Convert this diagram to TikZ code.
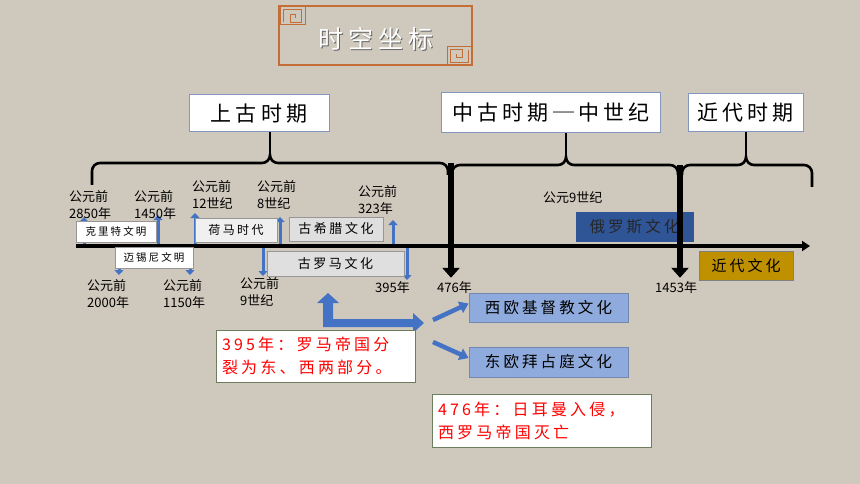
\documentclass[tikz,border=0pt]{standalone}
\usepackage{fontspec}
\newfontfamily\cjk{Noto Sans CJK SC}
\newfontfamily\cjkwide[LetterSpace=20]{Noto Sans CJK SC}
\usetikzlibrary{arrows.meta,positioning}
\definecolor{paper}{RGB}{207,200,188}
\definecolor{markblue}{RGB}{68,114,196}
\definecolor{keyorange}{RGB}{196,110,55}
\definecolor{periodedge}{RGB}{130,150,190}
\definecolor{greyedge}{RGB}{150,150,150}
\definecolor{westblue}{RGB}{143,170,220}
\definecolor{rusblue}{RGB}{47,85,151}
\definecolor{modgold}{RGB}{191,144,0}
\definecolor{noteedge}{RGB}{110,125,95}
\begin{document}
\begin{tikzpicture}[x=1pt, y=-1pt,
  period/.style = {draw=periodedge, fill=white, line width=1pt, inner sep=0pt, font=\cjkwide\fontsize{21}{21}\selectfont},
  date/.style = {anchor=west, align=left, inner sep=0pt, font=\cjk\fontsize{13}{17}\selectfont},
  culture/.style = {draw=greyedge, line width=0.8pt, inner sep=0pt, font=\cjkwide\fontsize{#1}{#1}\selectfont},
  split/.style = {draw=westblue!80!black, fill=westblue, line width=0.8pt, inner sep=0pt, font=\cjkwide\fontsize{15.5}{15.5}\selectfont},
  note/.style = {draw=noteedge, fill=white, line width=1pt, inner sep=0pt, inner xsep=6pt, align=left, text=red, font=\cjkwide\fontsize{16}{23}\selectfont},
  brace/.style = {line width=2.6pt},
  era/.style = {line width=6pt, -{Triangle[width=17pt,length=10pt]}, shorten >=4pt},
  datearrow/.style = {draw=markblue, line width=3pt, -{Triangle[width=9pt,length=5pt]}},
  forkarrow/.style = {draw=markblue, line width=4.5pt, -{Triangle[width=12pt,length=9pt]}},
  keyline/.style = {draw=keyorange, line width=1pt}
]
\fill[paper] (0,0) rectangle (860,484);
\useasboundingbox (0,0) rectangle (860,484);

% title
\draw[keyline, line width=1.2pt] (279,6) rectangle (472,65);
\foreach \kx/\ky/\kr in {280/7/0, 472/65/180}
  \draw[keyline, shift={(\kx,\ky)}, rotate=\kr, x=25pt, y=-18pt]
    (0,0) rectangle (1,1)
    (0.15,0.85) -- (0.15,0.15) -- (0.85,0.15) -- (0.85,0.85) -- (0.4,0.85) -- (0.4,0.4) -- (0.62,0.4) -- (0.62,0.62);
\node[font=\cjkwide\fontsize{25}{25}\selectfont, text=black!60] (titleshade) at (377,40) {时空坐标};
\node[font=\cjkwide\fontsize{25}{25}\selectfont, text=white] (title) at (375.5,38.5) {时空坐标};

% periods
\node[period, minimum width=140pt, minimum height=37pt] (pA) at (259,113.5) {上古时期};
\node[period, minimum width=219pt, minimum height=40pt] (pB) at (551,113) {中古时期─中世纪};
\node[period, minimum width=115pt, minimum height=38pt] (pC) at (745.5,113) {近代时期};

\foreach \xl/\xm/\xr/\yb/\yl/\yr/\pname in {92/270/448/163/185/175/pA, 452/566/678/165/175/175/pB, 682/746/812/165/175/187/pC} {
  \draw[brace] (\xl,\yl) -- (\xl,\yb+8) to[out=90,in=180] (\xl+8,\yb) -- (\xm-8,\yb) to[out=0,in=-90] (\xm,\yb-8)
    to[out=-90,in=180] (\xm+8,\yb) -- (\xr-8,\yb) to[out=0,in=90] (\xr,\yb+8) -- (\xr,\yr);
  \draw[brace] (\xm,\yb-8) -- (\xm,0 |- \pname.south);
}

% timeline
\coordinate (tl0) at (76,246);
\coordinate (tl1) at (810,246);
\foreach \n/\x/\y in {a/84/217, b/158/215, c/195/213, d/280/217, e/393/220, f/119/275, g/190/275, h/263/276, i/407/280} {
  \coordinate (tip\n) at (\x,\y);
  \draw[datearrow] (tip\n |- tl0) -- (tip\n);
}
\draw[line width=4pt, -{Triangle[width=10pt,length=8pt]}] (tl0) -- (tl1);

% cultures
\node[culture=10.5, fill=white, minimum width=80pt, minimum height=21pt] (crete) at (116,231.5) {克里特文明};
\node[culture=10.5, fill=white, minimum width=78pt, minimum height=21pt] (mycenae) at (154,257.5) {迈锡尼文明};
\node[culture=12, fill=gray!12, minimum width=82pt, minimum height=24pt] (homer) at (236,230) {荷马时代};
\node[culture=13, fill=gray!25, minimum width=94pt, minimum height=24pt] (greece) at (336,229) {古希腊文化};
\node[culture=13, fill=gray!25, minimum width=137pt, minimum height=25pt] (rome) at (335.5,263.5) {古罗马文化};
\node[culture=15.5, fill=rusblue, draw=rusblue, text=black!85, minimum width=117pt, minimum height=29pt] (russia) at (634.5,226.5) {俄罗斯文化};
\node[culture=15, fill=modgold, draw=gray, minimum width=94pt, minimum height=29pt] (modern) at (746,265.5) {近代文化};

% dates
\node[date] (d2850) at (69,205) {公元前\\2850年};
\node[date] (d1450) at (134,205) {公元前\\1450年};
\node[date] (d12c) at (192,195) {公元前\\12世纪};
\node[date] (d8c) at (257,195) {公元前\\8世纪};
\node[date] (d323) at (358,200) {公元前\\323年};
\node[date] (ad9c) at (543,198) {公元9世纪};
\node[date] (d2000) at (87,294) {公元前\\2000年};
\node[date] (d1150) at (163,294) {公元前\\1150年};
\node[date] (d9c) at (240,292) {公元前\\9世纪};
\node[date] (y395) at (375,288) {395年};
\node[date] (y476) at (437,288) {476年};
\node[date] (y1453) at (655,288) {1453年};

\coordinate (cut476) at (451,163);
\coordinate (cut1453) at (680,165);
\draw[era] (cut476) -- (cut476 |- y476.north);
\draw[era] (cut1453) -- (cut1453 |- y1453.north);

% split of the empire
\fill[markblue] (323,327) -- (323,303) -- (317,303) -- (328,293) -- (339,303) -- (333,303) -- (333,319)
  -- (413,319) -- (413,313) -- (424,323) -- (413,333) -- (413,327) -- cycle;
\node[note, text width=187pt, minimum height=52pt] (n395) at (315.5,356) {395年：罗马帝国分\\裂为东、西两部分。};
\node[note, text width=207pt, minimum height=53pt] (n476) at (541.5,420.5) {476年：日耳曼入侵，\\西罗马帝国灭亡};
\node[split, minimum width=159pt, minimum height=29pt] (wEur) at (548.5,307.5) {西欧基督教文化};
\node[split, minimum width=159pt, minimum height=30pt] (eEur) at (548.5,362) {东欧拜占庭文化};
\coordinate (forkA) at (433,320);
\coordinate (forkB) at (433,342);
\draw[forkarrow] (forkA) -- ([yshift=4pt]wEur.west);
\draw[forkarrow] (forkB) -- ([yshift=4pt]eEur.west);
\end{tikzpicture}
\end{document}
